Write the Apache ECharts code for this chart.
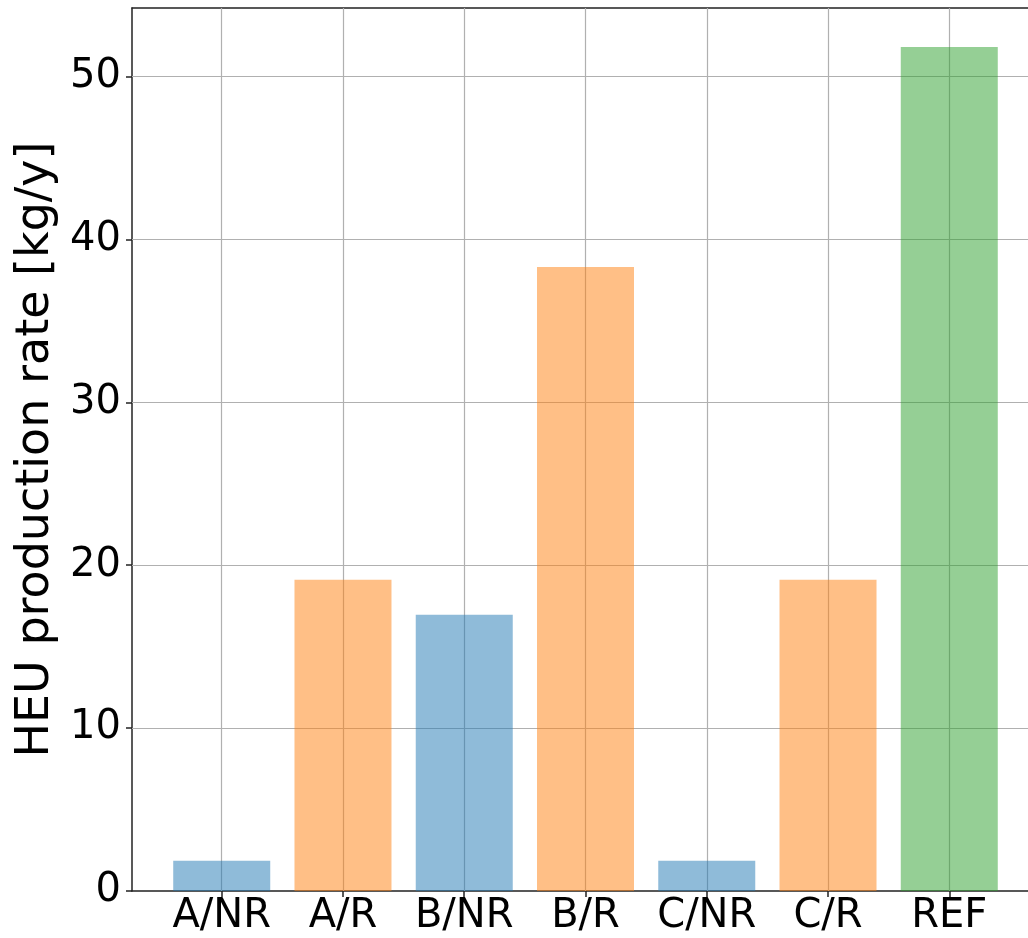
<!DOCTYPE html>
<html>
<head>
<meta charset="utf-8">
<script src="https://cdn.jsdelivr.net/npm/echarts@6/dist/echarts.min.js"></script>
<style>
  html, body { margin: 0; padding: 0; background: #fff; overflow: hidden; }
  #chart { width: 1046px; height: 938px; }
</style>
</head>
<body>
<div id="chart"></div>
<script>
// HEU production rate per scenario
const categories = ['A/NR', 'A/R', 'B/NR', 'B/R', 'C/NR', 'C/R', 'REF'];
const rates = [1.85, 19.1, 16.95, 38.3, 1.85, 19.1, 51.8];
const groups = ['NR', 'R', 'NR', 'R', 'NR', 'R', 'REF'];
const yTicks = [0, 10, 20, 30, 40, 50];

const groupColors = {
  NR: 'rgba(31,119,180,0.5)',
  R: 'rgba(255,127,14,0.5)',
  REF: 'rgba(44,160,44,0.5)'
};

const positions = categories.map((c, i) => i);
const FONT = 'DejaVu Sans';
const SPINE = { color: '#222', width: 1.5 };

const chart = echarts.init(document.getElementById('chart'), null, { renderer: 'canvas' });

chart.setOption({
  backgroundColor: '#ffffff',
  animation: false,
  grid: {
    left: 132,
    top: 8,
    width: 907,
    height: 883,
    show: false,
    containLabel: false
  },
  xAxis: [
    {
      type: 'value',
      min: -0.74,
      max: 6.74,
      axisLine: { show: true, onZero: false, lineStyle: SPINE },
      axisTick: { show: true, customValues: positions, length: 6, lineStyle: SPINE },
      axisLabel: {
        show: true,
        customValues: positions,
        formatter: v => categories[Math.round(v)],
        fontFamily: FONT, fontSize: 40, color: '#000', margin: 6
      },
      splitLine: { show: false }
    },
    {
      // top spine
      type: 'value',
      position: 'top',
      min: -0.74,
      max: 6.74,
      axisLine: { show: true, onZero: false, lineStyle: SPINE },
      axisTick: { show: false },
      axisLabel: { show: false },
      splitLine: { show: false }
    }
  ],
  yAxis: {
    type: 'value',
    min: 0,
    max: 54.2,
    axisLine: { show: true, onZero: false, lineStyle: SPINE },
    axisTick: { show: true, customValues: yTicks, length: 6, lineStyle: SPINE },
    axisLabel: {
      customValues: yTicks,
      fontFamily: FONT, fontSize: 40, color: '#000', margin: 11
    },
    splitLine: { show: false },
    name: 'HEU production rate [kg/y]',
    nameLocation: 'middle',
    nameGap: 72,
    nameTextStyle: { fontFamily: FONT, fontSize: 46, color: '#000' }
  },
  series: [
    {
      type: 'bar',
      barWidth: 97,
      data: rates.map((v, i) => ({
        value: [positions[i], v],
        itemStyle: { color: groupColors[groups[i]] }
      })),
      z: 3,
      markLine: {
        silent: true,
        symbol: 'none',
        label: { show: false },
        lineStyle: { color: '#b0b0b0', width: 1.2, type: 'solid' },
        z: 1,
        data: positions.map(p => ({ xAxis: p }))
          .concat(yTicks.slice(1).map(t => ({ yAxis: t })))
      }
    }
  ]
});
</script>
</body>
</html>
